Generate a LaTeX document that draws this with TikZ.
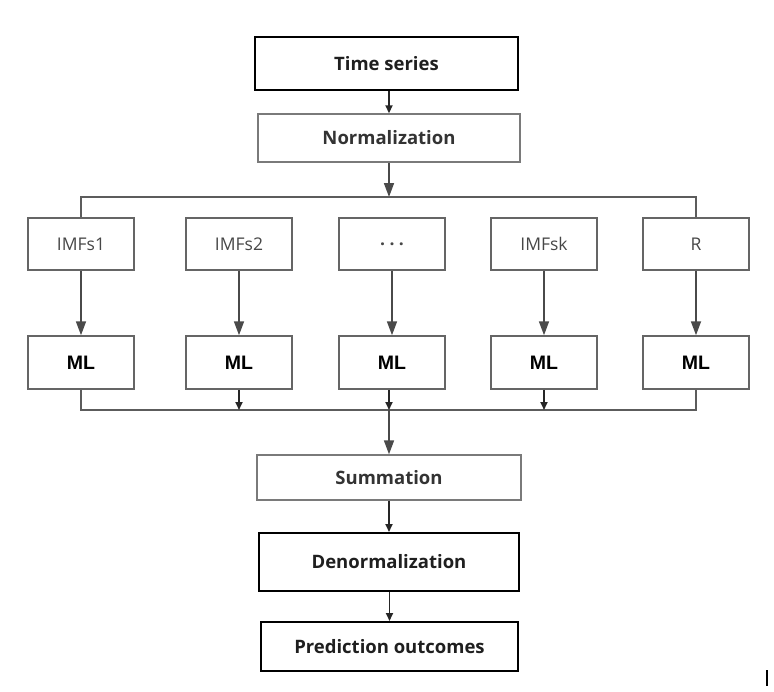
\documentclass[tikz,border=0pt]{standalone}
\usepackage{fontspec}
\setmainfont{Open Sans}
\newfontfamily\arialfont{Liberation Sans}
\usetikzlibrary{arrows.meta}
\definecolor{boxgray}{HTML}{7A7A7A}
\definecolor{linegray}{HTML}{4A4A4A}
\definecolor{txtgray}{HTML}{474747}
\begin{document}
\begin{tikzpicture}[x=1pt,y=-1pt,
  darkbox/.style={draw=black,line width=2pt,fill=white,minimum width=#1,inner sep=0pt,font=\fontsize{18.5}{20}\selectfont\bfseries,text=black!88},
  graybox/.style={draw=boxgray,line width=1.4pt,fill=white,minimum width=#1,inner sep=0pt,font=\fontsize{18.5}{20}\selectfont\bfseries,text=black!80},
  imfbox/.style={draw=linegray!85,line width=1.5pt,minimum width=106pt,minimum height=52pt,inner sep=0pt,font=\fontsize{17.5}{20}\selectfont,text=txtgray},
  mlbox/.style={draw=linegray!85,line width=1.5pt,minimum width=106pt,minimum height=53pt,inner sep=0pt,font=\arialfont\fontsize{19.5}{20}\selectfont\bfseries,text=black},
  bigarrow/.style={draw=linegray,line width=1.7pt,-{Triangle[width=10pt,length=14pt]}},
  smallarrow/.style={draw=black!85,line width=1.8pt,-{Triangle[width=7pt,length=8pt]}},
  busline/.style={draw=linegray!90,line width=1.6pt}
]
\useasboundingbox (0,0) rectangle (774,691);

\node[darkbox=263pt,minimum height=53pt] (ts) at (386.5,63.5) {Time series};
\node[graybox=262pt,minimum height=48pt] (norm) at (389,138) {Normalization};

\node[imfbox] (i1) at (81,244) {IMFs1};
\node[imfbox] (i2) at (239,244) {IMFs2};
\node[imfbox] (i3) at (392,244) {\bfseries .\hspace{4.5pt}.\hspace{4.5pt}.};
\node[imfbox] (i4) at (544,244) {IMFsk};
\node[imfbox] (i5) at (696,244) {R};

\node[mlbox] (m1) at (81,362.5) {ML};
\node[mlbox] (m2) at (239,362.5) {ML};
\node[mlbox] (m3) at (392,362.5) {ML};
\node[mlbox] (m4) at (544,362.5) {ML};
\node[mlbox] (m5) at (696,362.5) {ML};

\node[graybox=264pt,minimum height=45pt] (sum) at (389,477.5) {Summation};
\node[darkbox=260pt,minimum height=58pt] (den) at (389,562) {Denormalization};
\node[darkbox=257pt,minimum height=49pt] (pred) at (389.5,646.5) {Prediction outcomes};

\coordinate (top) at (389,197);
\coordinate (bot) at (389,410);

\draw[smallarrow] (ts.south -| norm) -- (norm.north);
\draw[bigarrow] (norm.south) -- (top);
\draw[busline] (i1.north) |- (top) -| (i5.north);

\foreach \k in {1,...,5}{
  \draw[bigarrow] (i\k.south) -- (m\k.north);
}

\draw[busline] (m1.south) |- (bot) -| (m5.south);
\draw[smallarrow] (m2.south) -- (m2.south |- bot);
\draw[smallarrow] (m3.south -| bot) -- (bot);
\draw[smallarrow] (m4.south) -- (m4.south |- bot);

\draw[bigarrow] (bot) -- (sum.north);
\draw[smallarrow] (sum.south) -- (den.north);
\draw[smallarrow] (den.south -| pred) -- (pred.north);

\coordinate (ma) at (767,670);
\coordinate (mb) at (767,686);
\draw[black,line width=1.2pt] (ma) -- (mb);
\end{tikzpicture}
\end{document}
